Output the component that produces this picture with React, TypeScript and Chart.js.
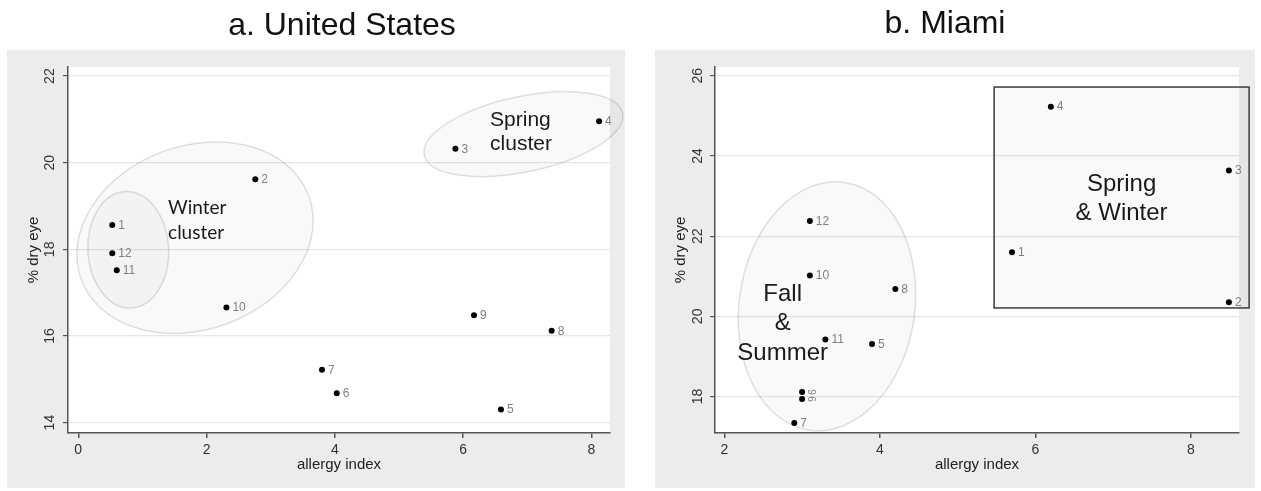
import React, { useEffect, useRef } from "react";
import { Chart, registerables } from "chart.js";
Chart.register(...registerables);

// ---------- data ----------
const usMonths = ["1", "2", "3", "4", "5", "6", "7", "8", "9", "10", "11", "12"];
const usAllergy = [0.53, 2.76, 5.88, 8.12, 6.59, 4.03, 3.8, 7.38, 6.17, 2.31, 0.6, 0.53];
const usDryEye = [18.56, 19.62, 20.32, 20.96, 14.3, 14.68, 15.22, 16.12, 16.48, 16.66, 17.52, 17.91];

const miamiMonths = ["1", "2", "3", "4", "5", "6", "7", "8", "9", "10", "11", "12"];
const miamiAllergy = [5.7, 8.49, 8.49, 6.2, 3.9, 3.0, 2.9, 4.2, 3.0, 3.1, 3.3, 3.1];
const miamiDryEye = [21.6, 20.35, 23.64, 25.23, 19.31, 17.94, 17.34, 20.68, 18.11, 21.02, 19.42, 22.38];

const usXTicks = [0, 2, 4, 6, 8];
const usYTicks = [14, 16, 18, 20, 22];
const miamiXTicks = [2, 4, 6, 8];
const miamiYTicks = [18, 20, 22, 24, 26];

const FONT = '"Liberation Sans", Arial, sans-serif';
const CAL = 'Lato, "Open Sans", sans-serif';

type Ell = { cx: number; cy: number; rx: number; ry: number; rot: number };
type Txt = { x: number; y: number; lines: string[]; size: number; family: string; align: CanvasTextAlign; spacing: number };
type Box = { x0: number; x1: number; y0: number; y1: number };

interface PanelCfg {
  title: string;
  titleX: number;
  titleY: number;
  bg: { x: number; y: number; w: number; h: number };
  months: string[];
  xs: number[];
  ys: number[];
  xMin: number;
  xMax: number;
  yMin: number;
  yMax: number;
  xTicks: number[];
  yTicks: number[];
  yWidth: number;
  padRight: number;
  yTitlePad: number;
  yLabelX: number;
  ellipses: Ell[];
  boxes: Box[];
  texts: Txt[];
  rotatedLabels: string[];
  width: number;
  left: number;
}

function makePlugin(cfg: PanelCfg) {
  return {
    id: "panelDeco",
    beforeDraw(chart: any) {
      const ctx = chart.ctx as CanvasRenderingContext2D;
      const ca = chart.chartArea;
      ctx.save();
      ctx.fillStyle = "#ffffff";
      ctx.fillRect(0, 0, chart.width, chart.height);
      ctx.fillStyle = "#ececec";
      ctx.fillRect(cfg.bg.x, cfg.bg.y, cfg.bg.w, cfg.bg.h);
      ctx.fillStyle = "#ffffff";
      ctx.fillRect(ca.left, ca.top, ca.right - ca.left, ca.bottom - ca.top);
      // title
      ctx.fillStyle = "#111";
      ctx.font = `32px ${FONT}`;
      ctx.textAlign = "center";
      ctx.textBaseline = "alphabetic";
      ctx.fillText(cfg.title, cfg.titleX, cfg.titleY);
      ctx.restore();
    },
    afterDraw(chart: any) {
      const ctx = chart.ctx as CanvasRenderingContext2D;
      const ys = chart.scales.y;
      ctx.save();
      ctx.fillStyle = "#333";
      ctx.font = `14px ${FONT}`;
      ctx.textAlign = "center";
      ctx.textBaseline = "middle";
      ys.ticks.forEach((t: any) => {
        const py = ys.getPixelForValue(t.value);
        ctx.save();
        ctx.translate(cfg.yLabelX, py);
        ctx.rotate(-Math.PI / 2);
        ctx.fillText(String(t.value), 0, 0);
        ctx.restore();
      });
      ctx.restore();
    },
    beforeDatasetsDraw(chart: any) {
      const ctx = chart.ctx as CanvasRenderingContext2D;
      const xs = chart.scales.x;
      const ys = chart.scales.y;
      const pxX = Math.abs(xs.getPixelForValue(1) - xs.getPixelForValue(0));
      const pxY = Math.abs(ys.getPixelForValue(1) - ys.getPixelForValue(0));
      ctx.save();
      cfg.ellipses.forEach((e) => {
        ctx.beginPath();
        ctx.ellipse(
          xs.getPixelForValue(e.cx),
          ys.getPixelForValue(e.cy),
          e.rx * pxX,
          e.ry * pxY,
          (e.rot * Math.PI) / 180,
          0,
          Math.PI * 2
        );
        ctx.fillStyle = "rgba(0,0,0,0.025)";
        ctx.fill();
        ctx.strokeStyle = "rgba(0,0,0,0.12)";
        ctx.lineWidth = 1.5;
        ctx.stroke();
      });
      cfg.boxes.forEach((b) => {
        const x0 = xs.getPixelForValue(b.x0);
        const x1 = xs.getPixelForValue(b.x1);
        const y0 = ys.getPixelForValue(b.y1);
        const y1 = ys.getPixelForValue(b.y0);
        ctx.fillStyle = "rgba(0,0,0,0.025)";
        ctx.fillRect(x0, y0, x1 - x0, y1 - y0);
        ctx.strokeStyle = "#3a3a3a";
        ctx.lineWidth = 1.5;
        ctx.strokeRect(x0, y0, x1 - x0, y1 - y0);
      });
      ctx.restore();
    },
    afterDatasetsDraw(chart: any) {
      const ctx = chart.ctx as CanvasRenderingContext2D;
      const xs = chart.scales.x;
      const ys = chart.scales.y;
      ctx.save();
      // point labels
      const meta = chart.getDatasetMeta(0);
      meta.data.forEach((el: any, i: number) => {
        const lab = cfg.months[i];
        ctx.fillStyle = "#808080";
        if (cfg.rotatedLabels.includes(lab)) {
          ctx.save();
          ctx.translate(el.x + 9, el.y);
          ctx.rotate(Math.PI / 2);
          ctx.font = `10px ${FONT}`;
          ctx.textAlign = "center";
          ctx.textBaseline = "middle";
          ctx.fillText(lab, 0, 0);
          ctx.restore();
        } else {
          ctx.font = `12px ${FONT}`;
          ctx.textAlign = "left";
          ctx.textBaseline = "middle";
          ctx.fillText(lab, el.x + 6, el.y + 0.5);
        }
      });
      // annotation texts
      cfg.texts.forEach((t) => {
        ctx.fillStyle = "#1a1a1a";
        ctx.font = `${t.size}px ${t.family}`;
        ctx.textAlign = t.align;
        ctx.textBaseline = "middle";
        const px = xs.getPixelForValue(t.x);
        const py = ys.getPixelForValue(t.y);
        t.lines.forEach((ln, k) => ctx.fillText(ln, px, py + k * t.spacing));
      });
      ctx.restore();
    },
  };
}

function buildConfig(cfg: PanelCfg): any {
  return {
    type: "scatter",
    data: {
      datasets: [
        {
          data: cfg.xs.map((x, i) => ({ x, y: cfg.ys[i] })),
          pointRadius: 3,
          pointBackgroundColor: "#000",
          pointBorderWidth: 0,
          pointHoverRadius: 3,
        },
      ],
    },
    options: {
      animation: false,
      responsive: false,
      events: [],
      layout: { padding: { left: 0, top: 67, right: cfg.padRight, bottom: 0 } },
      plugins: { legend: { display: false }, tooltip: { enabled: false }, title: { display: false } },
      scales: {
        x: {
          type: "linear",
          min: cfg.xMin,
          max: cfg.xMax,
          afterBuildTicks: (s: any) => {
            s.ticks = cfg.xTicks.map((v) => ({ value: v }));
          },
          afterFit: (s: any) => {
            s.height = 58;
          },
          grid: { drawOnChartArea: false, drawTicks: true, tickLength: 5, tickColor: "#555", lineWidth: 1.5 },
          border: { display: true, color: "#555", width: 1.5 },
          ticks: { padding: 4, color: "#333", font: { family: FONT, size: 14 }, maxRotation: 0, autoSkip: false },
          title: {
            display: true,
            text: "allergy index",
            color: "#222",
            font: { family: FONT, size: 15 },
            padding: { top: 0, bottom: 17 },
          },
        },
        y: {
          type: "linear",
          min: cfg.yMin,
          max: cfg.yMax,
          afterBuildTicks: (s: any) => {
            s.ticks = cfg.yTicks.map((v) => ({ value: v }));
          },
          afterFit: (s: any) => {
            s.width = cfg.yWidth;
          },
          grid: { color: "#e6e6e6", lineWidth: 1.2, drawTicks: true, tickLength: 5, tickColor: "#555" },
          border: { display: true, color: "#555", width: 1.5 },
          ticks: { display: false },
          title: {
            display: true,
            text: "% dry eye",
            color: "#222",
            font: { family: FONT, size: 15 },
            padding: { top: cfg.yTitlePad, bottom: 0 },
          },
        },
      },
    },
    plugins: [makePlugin(cfg)],
  };
}

const usCfg: PanelCfg = {
  title: "a. United States",
  titleX: 342,
  titleY: 35,
  bg: { x: 7, y: 50, w: 618, h: 438 },
  months: usMonths,
  xs: usAllergy,
  ys: usDryEye,
  xMin: -0.16,
  xMax: 8.29,
  yMin: 13.76,
  yMax: 22.21,
  xTicks: usXTicks,
  yTicks: usYTicks,
  yWidth: 68,
  padRight: 30,
  yTitlePad: 25,
  yLabelX: 50,
  ellipses: [
    { cx: 1.82, cy: 18.27, rx: 1.89, ry: 2.12, rot: -20 },
    { cx: 0.78, cy: 17.99, rx: 0.63, ry: 1.345, rot: -3 },
    { cx: 6.94, cy: 20.66, rx: 1.58, ry: 0.87, rot: -12 },
  ],
  boxes: [],
  texts: [
    { x: 1.4, y: 18.955, lines: ["Winter", "cluster"], size: 19, family: CAL, align: "left", spacing: 24.7 },
    { x: 6.42, y: 20.985, lines: ["Spring", "cluster"], size: 21, family: FONT, align: "left", spacing: 24.3 },
  ],
  rotatedLabels: [],
  width: 640,
  left: 0,
};

const miamiCfg: PanelCfg = {
  title: "b. Miami",
  titleX: 305,
  titleY: 33,
  bg: { x: 15, y: 50, w: 600, h: 438 },
  months: miamiMonths,
  xs: miamiAllergy,
  ys: miamiDryEye,
  xMin: 1.88,
  xMax: 8.62,
  yMin: 17.09,
  yMax: 26.22,
  xTicks: miamiXTicks,
  yTicks: miamiYTicks,
  yWidth: 75,
  padRight: 22,
  yTitlePad: 32,
  yLabelX: 58,
  ellipses: [{ cx: 3.32, cy: 20.25, rx: 1.13, ry: 3.12, rot: 8 }],
  boxes: [{ x0: 5.47, x1: 8.75, y0: 20.21, y1: 25.72 }],
  texts: [
    { x: 7.11, y: 23.28, lines: ["Spring", "& Winter"], size: 24, family: FONT, align: "center", spacing: 28.3 },
    { x: 2.75, y: 20.56, lines: ["Fall", "&", "Summer"], size: 24, family: FONT, align: "center", spacing: 29.7 },
  ],
  rotatedLabels: ["6", "9"],
  width: 621,
  left: 640,
};

function Panel({ cfg }: { cfg: PanelCfg }) {
  const ref = useRef<HTMLCanvasElement>(null);
  useEffect(() => {
    const chart = new Chart(ref.current as HTMLCanvasElement, buildConfig(cfg));
    return () => chart.destroy();
  }, []);
  return (
    <canvas
      ref={ref}
      width={cfg.width}
      height={491}
      style={{ position: "absolute", left: cfg.left, top: 0, width: cfg.width, height: 491 }}
    />
  );
}

export default function App() {
  return (
    <div style={{ position: "fixed", left: 0, top: 0, width: 1261, height: 491, background: "#fff" }}>
      <Panel cfg={usCfg} />
      <Panel cfg={miamiCfg} />
    </div>
  );
}
